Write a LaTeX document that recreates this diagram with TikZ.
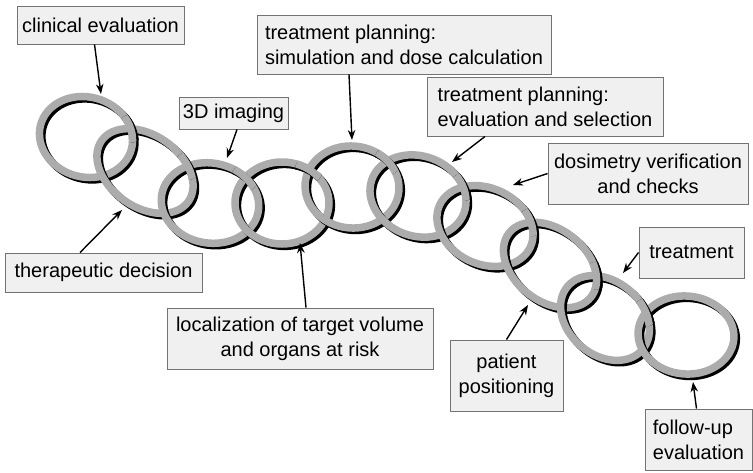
\documentclass[tikz,border=0pt]{standalone}
\usepackage{fontspec}
\setmainfont{Liberation Sans}
\usetikzlibrary{intersections,calc,arrows.meta}
\definecolor{ringgray}{RGB}{172,172,172}
\definecolor{boxfill}{RGB}{240,240,240}
\definecolor{boxline}{RGB}{115,115,115}
\begin{document}
\begin{tikzpicture}[x=1pt,y=-1pt,
  lbl/.style={draw=boxline, fill=boxfill, line width=0.9pt, font=\fontsize{20}{25}\selectfont, inner sep=0pt},
  arr/.style={-{Stealth[length=10pt,width=7.5pt]}, line width=1.4pt},
  ringline/.style={draw=ringgray, line width=7.5pt},
  ringshadow/.style={draw=black, line width=7.5pt}]
\useasboundingbox (0,0) rectangle (753,472);

% rings: index / center x / center y / x radius / y radius / rotation
\foreach \i/\cx/\cy/\rx/\ry/\rot in {
  1/86/137/47/40/-15,
  2/145/171/53/36/-35,
  3/210/203/49/40/-10,
  4/282/203/47/41/0,
  5/352/187/47/41/-5,
  6/418/196/49/40/-20,
  7/485/226/50/38/-25,
  8/550/265/52/36/-38,
  9/605/318/49/37/-40,
  10/686/335/48/39/-5}{
  \coordinate (c\i) at (\cx,\cy);
  \draw[ringshadow] ([shift={(2.4,2.4)}]c\i) ellipse [x radius=\rx pt, y radius=\ry pt, rotate=\rot];
  \draw[ringline, name path global=r\i] (c\i) ellipse [x radius=\rx pt, y radius=\ry pt, rotate=\rot];
  \ifnum\i>1
    \path[name intersections/.expanded={of=r\previ\space and r\i, name=X}];
    \foreach \k in {1,2}{
      \begin{scope}
        \clip (c\previ) -- (c\i) -- ($(c\i)+(0,-300)$) -- ($(c\previ)+(0,-300)$) -- cycle;
        \clip (X-\k) circle (14pt);
        \draw[ringshadow] ([shift={(2.4,2.4)}]c\previ) ellipse [x radius=\prx pt, y radius=\pry pt, rotate=\prot];
        \draw[ringline] (c\previ) ellipse [x radius=\prx pt, y radius=\pry pt, rotate=\prot];
      \end{scope}
    }
  \fi
  \xdef\previ{\i}\xdef\prx{\rx}\xdef\pry{\ry}\xdef\prot{\rot}
}

% labels
\node[lbl, minimum width=167pt, minimum height=38pt] (clin) at (100.5,25) {clinical evaluation};
\node[lbl, minimum width=109pt, minimum height=32pt] (img) at (233.5,113) {3D imaging};
\node[lbl, minimum width=294pt, minimum height=59pt, align=left] (sim) at (404,44.5) {treatment planning:\\simulation and dose calculation};
\node[lbl, minimum width=236pt, minimum height=59pt, align=left] (evs) at (545,106.5) {treatment planning:\\evaluation and selection};
\node[lbl, minimum width=200pt, minimum height=61pt, align=center] (dos) at (648,173.5) {dosimetry verification\\and checks};
\node[lbl, minimum width=105pt, minimum height=51pt] (trt) at (691.5,252.5) {treatment};
\node[lbl, minimum width=113pt, minimum height=71pt, align=center] (pat) at (506.5,375.5) {patient\\positioning};
\node[lbl, minimum width=107pt, minimum height=61pt, align=left] (fol) at (698.5,439.5) {follow-up\\evaluation};
\node[lbl, minimum width=197pt, minimum height=39pt] (ther) at (103.5,272.5) {therapeutic decision};
\node[lbl, minimum width=266pt, minimum height=61pt, align=center] (loc) at (300,338.5) {localization of target volume\\and organs at risk};

% arrow heads on rings
\coordinate (h1) at (101,94);
\coordinate (h2) at (227,158);
\coordinate (h3) at (352,140);
\coordinate (h4) at (452,162);
\coordinate (h5) at (513,185);
\coordinate (h6) at (623,273);
\coordinate (h7) at (528,305);
\coordinate (h8) at (693,382);
\coordinate (h9) at (122,210);
\coordinate (h10) at (300,243);

\draw[arr] ([xshift=-6pt]clin.south) -- (h1);
\draw[arr] ([xshift=3.5pt]img.south) -- (h2);
\draw[arr] ([xshift=-55pt]sim.south) -- (h3);
\draw[arr] ([xshift=-60pt]evs.south) -- (h4);
\draw[arr] (dos.west) -- (h5);
\draw[arr] (trt.west) -- (h6);
\draw[arr] (pat.north) -- (h7);
\draw[arr] ([xshift=-2pt]fol.north) -- (h8);
\draw[arr] ([xshift=-23.5pt]ther.north) -- (h9);
\draw[arr] ([xshift=6pt]loc.north) -- (h10);
\end{tikzpicture}
\end{document}
